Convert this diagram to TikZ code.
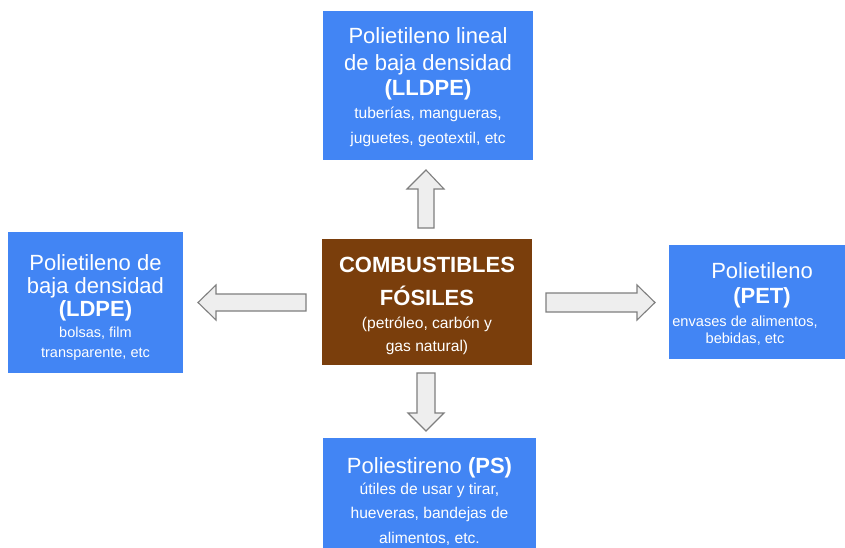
\documentclass[tikz,border=0pt]{standalone}
\usepackage{fontspec}
\setmainfont{Liberation Sans}
\definecolor{boxblue}{HTML}{4285F4}
\definecolor{boxbrown}{HTML}{7A3E0C}
\definecolor{arrfill}{HTML}{EEEEEE}
\definecolor{arrline}{HTML}{7F7F7F}
\tikzset{
  bluebox/.style={fill=boxblue, draw=none, inner sep=0pt},
  brownbox/.style={fill=boxbrown, draw=none, inner sep=0pt},
  ttl/.style={text=white, anchor=base, inner sep=0pt, font=\fontsize{22}{26}\selectfont},
  sub/.style={text=white, anchor=base, inner sep=0pt, font=\fontsize{#1}{#1}\selectfont},
  blockarrow/.style={fill=arrfill, draw=arrline, line width=1.1pt, line join=miter}
}
\begin{document}
\begin{tikzpicture}[x=1pt,y=-1pt]
\useasboundingbox (0,0) rectangle (845,548);
\clip (0,0) rectangle (845,548);
\fill[white] (0,0) rectangle (845,548);
% boxes
\path[bluebox] (323,11) rectangle (533,160);
\path[bluebox] (8,232) rectangle (183,373);
\path[brownbox] (322,239) rectangle (532,365);
\path[bluebox] (669,245) rectangle (850,359);
\path[bluebox] (323,438) rectangle (536,560);
% top box text
\node[ttl] (t1) at (428,44) {Polietileno lineal};
\node[ttl] (t2) at (428,70.5) {de baja densidad};
\node[ttl] (t3) at (428,96) {\bfseries (LLDPE)};
\node[sub=15.6] (t4) at (428,118.5) {tuberías, mangueras,};
\node[sub=15.6] (t5) at (428,144) {juguetes, geotextil, etc};
% left box text
\node[ttl] (l1) at (95.5,270) {Polietileno de};
\node[ttl] (l2) at (95.5,293) {baja densidad};
\node[ttl] (l3) at (95.5,316) {\bfseries (LDPE)};
\node[sub=14.5] (l4) at (95.5,337.5) {bolsas, film};
\node[sub=14.5] (l5) at (95.5,357.5) {transparente, etc};
% center box text
\node[ttl] (c1) at (427,272.5) {\bfseries COMBUSTIBLES};
\node[ttl] (c2) at (427,305) {\bfseries FÓSILES};
\node[sub=15.6] (c3) at (427,328) {(petróleo, carbón y};
\node[sub=15.6] (c4) at (427,351) {gas natural)};
% right box text
\node[ttl] (r1) at (762,278) {Polietileno};
\node[ttl] (r2) at (762,303) {\bfseries (PET)};
\node[sub=14.6] (r3) at (745,326) {envases de alimentos,};
\node[sub=14.6] (r4) at (745,343) {bebidas, etc};
% bottom box text
\node[ttl] (b1) at (429.5,473) {Poliestireno \textbf{(PS)}};
\node[sub=15.6] (b2) at (429.5,494) {útiles de usar y tirar,};
\node[sub=15.6] (b3) at (429.5,518.5) {hueveras, bandejas de};
\node[sub=15.6] (b4) at (429.5,543) {alimentos, etc.};
% block arrows
\draw[blockarrow] (418,228) -- (418,189) -- (407,189) -- (426,170) -- (444,189) -- (434,189) -- (434,228) -- cycle;
\draw[blockarrow] (417,373) -- (435,373) -- (435,413) -- (444,413) -- (426,431) -- (408,413) -- (417,413) -- cycle;
\draw[blockarrow] (306,294) -- (216,294) -- (216,285) -- (198,302.5) -- (216,320) -- (216,311) -- (306,311) -- cycle;
\draw[blockarrow] (546,293) -- (637,293) -- (637,285) -- (655,302.5) -- (637,320) -- (637,312) -- (546,312) -- cycle;
\end{tikzpicture}
\end{document}
